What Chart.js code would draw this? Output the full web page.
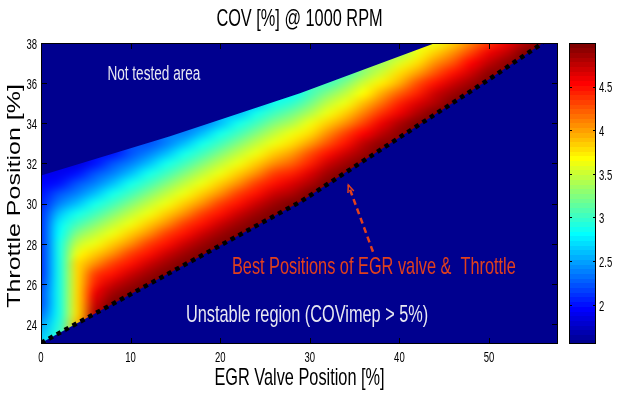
<!DOCTYPE html>
<html>
<head>
<meta charset="utf-8">
<title>COV @ 1000 RPM</title>
<script src="https://cdn.jsdelivr.net/npm/chart.js@4.4.1/dist/chart.umd.min.js"></script>
<style>
  html, body { margin: 0; padding: 0; background: #fff; }
  #wrap { width: 618px; height: 393px; }
</style>
</head>
<body>
<div id="wrap"><canvas id="covChart" width="618" height="393"></canvas></div>
<script>
// EGR valve columns of the COV map [%]
const egrValve = [0, 2, 4, 6, 8, 10, 12, 14, 16, 18, 20, 22, 24, 26, 28,
                  30, 32, 34, 36, 38, 40, 42, 44, 46, 48, 50, 52, 54, 56];
// lowest tested throttle position in each column [%]
const throttleStart = [23, 23.5, 24, 24.5, 25, 25.5, 26, 26.5, 27, 27.5, 28, 28.5, 29, 29.5, 30,
                       30.5, 31, 31.5, 32, 32.5, 33.5, 34, 34.5, 35, 35.5, 36, 37, 37.5, 38];
const throttleStep = 0.5;
// COV [%] going up each column, one value every 0.5 % throttle
const covColumns = [
  [2.7, 2.6, 2.5, 2.35, 2.25, 2.2, 2.15, 2.1, 2.1, 2.1, 2.1, 2.1, 2.1, 2.1, 2.05, 2.0, 1.95, 1.9],
  [3.0, 2.9, 2.85, 2.85, 2.85, 2.85, 2.85, 2.85, 2.85, 2.85, 2.8, 2.75, 2.6, 2.4, 2.2, 2.0, 1.9],
  [3.9, 3.8, 3.8, 3.8, 3.8, 3.8, 3.8, 3.65, 3.45, 3.25, 3.05, 2.85, 2.6, 2.4, 2.2, 2.0, 1.85],
  [4.8, 4.7, 4.6, 4.45, 4.3, 4.05, 3.85, 3.65, 3.45, 3.25, 3.05, 2.85, 2.6, 2.4, 2.2, 2.0],
  [5.0, 4.85, 4.7, 4.5, 4.3, 4.05, 3.85, 3.65, 3.45, 3.25, 3.05, 2.85, 2.6, 2.4, 2.2, 2.0],
  [5.0, 4.85, 4.7, 4.5, 4.3, 4.05, 3.85, 3.65, 3.45, 3.25, 3.05, 2.85, 2.6, 2.4, 2.2],
  [5.0, 4.85, 4.7, 4.5, 4.3, 4.05, 3.85, 3.65, 3.45, 3.25, 3.05, 2.85, 2.6, 2.4, 2.2],
  [5.0, 4.85, 4.7, 4.5, 4.3, 4.05, 3.85, 3.65, 3.45, 3.25, 3.05, 2.85, 2.6, 2.4],
  [5.0, 4.85, 4.7, 4.5, 4.3, 4.05, 3.85, 3.65, 3.45, 3.25, 3.05, 2.85, 2.6, 2.4],
  [5.0, 4.85, 4.7, 4.5, 4.3, 4.05, 3.85, 3.65, 3.45, 3.25, 3.05, 2.85, 2.6, 2.4],
  [5.0, 4.85, 4.7, 4.5, 4.3, 4.05, 3.85, 3.65, 3.45, 3.25, 3.05, 2.85, 2.6],
  [5.0, 4.85, 4.7, 4.5, 4.3, 4.05, 3.85, 3.65, 3.45, 3.25, 3.05, 2.85, 2.6],
  [5.0, 4.85, 4.7, 4.5, 4.3, 4.05, 3.85, 3.65, 3.45, 3.25, 3.05, 2.85, 2.6],
  [5.0, 4.85, 4.7, 4.5, 4.3, 4.05, 3.85, 3.65, 3.45, 3.25, 3.05, 2.85],
  [4.95, 4.8, 4.64, 4.44, 4.24, 4.0, 3.8, 3.6, 3.4, 3.2, 3.0, 2.8],
  [4.97, 4.82, 4.66, 4.46, 4.25, 4.01, 3.81, 3.61, 3.41, 3.21, 3.01],
  [5.0, 4.84, 4.69, 4.49, 4.29, 4.04, 3.84, 3.64, 3.44, 3.24, 3.04],
  [5.0, 4.85, 4.7, 4.5, 4.3, 4.05, 3.85, 3.65, 3.45, 3.25, 3.05],
  [5.0, 4.89, 4.74, 4.55, 4.35, 4.12, 3.9, 3.7, 3.5, 3.3],
  [5.0, 4.91, 4.76, 4.58, 4.38, 4.15, 3.93, 3.74, 3.54, 3.33],
  [4.94, 4.79, 4.62, 4.42, 4.21, 3.97, 3.77, 3.57, 3.37],
  [4.96, 4.81, 4.65, 4.45, 4.25, 4.0, 3.8, 3.6],
  [4.98, 4.83, 4.68, 4.48, 4.28, 4.03, 3.83, 3.63],
  [4.99, 4.84, 4.69, 4.49, 4.29, 4.04, 3.84],
  [5.0, 4.88, 4.73, 4.54, 4.34, 4.1],
  [5.0, 4.9, 4.76, 4.58, 4.37],
  [4.93, 4.78, 4.61],
  [4.95, 4.8],
  [4.98]
];

// best EGR / throttle positions (black dotted line)
const bestEgr = [0, 5, 10, 15, 20, 25, 29, 35, 40, 45, 50, 56];
const bestThrottle = [23.05, 24.27, 25.48, 26.7, 27.91, 29.13, 30.1, 31.84, 33.29, 34.74, 36.19, 38];

// upper limit of the tested area
const limitEgr = [0, 14.4, 28.9, 44, 58];
const limitThrottle = [31.4, 33.35, 35.5, 38, 38];

const xTicks = [0, 10, 20, 30, 40, 50];
const yTicks = [24, 26, 28, 30, 32, 34, 36, 38];
const cbarTicks = [2, 2.5, 3, 3.5, 4, 4.5];
const cMin = 1.55, cMax = 5.0;

const bgBlue = 'rgb(0,0,143)';
const fontFam = '"Liberation Sans", Arial, Helvetica, sans-serif';

// matlab jet, 64 levels
function jetIndex(v) {
  const f = (v - cMin) / (cMax - cMin);
  return Math.max(0, Math.min(63, Math.floor(f * 64)));
}
function jetRgb(i) {
  const t = (i + 1) / 64;
  const cl = v => Math.round(255 * Math.max(0, Math.min(1, v)));
  return [cl(1.5 - Math.abs(4 * t - 3)), cl(1.5 - Math.abs(4 * t - 2)), cl(1.5 - Math.abs(4 * t - 1))];
}

function buildCovImage() {
  const cols = egrValve.length + 1;               // one spare column past the last one
  const rows = Math.round((38 - 23) / throttleStep) + 1;
  const off = document.createElement('canvas');
  off.width = cols;
  off.height = rows;
  const octx = off.getContext('2d');
  const img = octx.createImageData(cols, rows);
  for (let c = 0; c < cols; c++) {
    const ci = Math.min(c, egrValve.length - 1);
    const vals = covColumns[ci];
    for (let r = 0; r < rows; r++) {
      const thr = 38 - r * throttleStep;
      let k = Math.round((thr - throttleStart[ci]) / throttleStep);
      k = Math.max(0, Math.min(vals.length - 1, k)); // outside cells are clipped away below
      const rgb = jetRgb(jetIndex(vals[k]));
      const p = (r * cols + c) * 4;
      img.data[p] = rgb[0];
      img.data[p + 1] = rgb[1];
      img.data[p + 2] = rgb[2];
      img.data[p + 3] = 255;
    }
  }
  octx.putImageData(img, 0, 0);
  return off;
}
const covImage = buildCovImage();

function squeezed(ctx, text, x, y, size, color, align) {
  ctx.save();
  ctx.translate(x, y);
  ctx.scale(0.68, 1);
  ctx.font = size + 'px ' + fontFam;
  ctx.fillStyle = color;
  ctx.textAlign = align || 'center';
  ctx.textBaseline = 'middle';
  ctx.fillText(text, 0, 0);
  ctx.restore();
}

const covMap = {
  id: 'covMap',
  beforeDatasetsDraw(chart) {
    const { ctx, chartArea: a, scales: { x, y } } = chart;
    ctx.save();
    ctx.fillStyle = bgBlue;
    ctx.fillRect(a.left, a.top, a.right - a.left, a.bottom - a.top);
    ctx.beginPath();
    ctx.rect(a.left, a.top, a.right - a.left, a.bottom - a.top);
    ctx.clip();
    ctx.beginPath();
    limitEgr.forEach((e, i) => {
      const px = x.getPixelForValue(e), py = y.getPixelForValue(limitThrottle[i]);
      if (i === 0) ctx.moveTo(px, py); else ctx.lineTo(px, py);
    });
    for (let i = bestEgr.length - 1; i >= 0; i--) {
      ctx.lineTo(x.getPixelForValue(bestEgr[i]), y.getPixelForValue(bestThrottle[i]));
    }
    ctx.closePath();
    ctx.clip();
    ctx.imageSmoothingEnabled = true;
    ctx.imageSmoothingQuality = 'high';
    const left = x.getPixelForValue(egrValve[0] - 1);
    const right = x.getPixelForValue(egrValve[egrValve.length - 1] + 3);
    const top = y.getPixelForValue(38 + throttleStep / 2);
    const bottom = y.getPixelForValue(23 - throttleStep / 2);
    ctx.drawImage(covImage, left, top, right - left, bottom - top);
    ctx.restore();
  },
  afterDatasetsDraw(chart) {
    const { ctx, chartArea: a, scales: { x, y, cbar } } = chart;
    ctx.save();

    // annotations
    squeezed(ctx, 'Not tested area', x.getPixelForValue(12.6), y.getPixelForValue(36.45), 20, '#e8e8f2');
    squeezed(ctx, 'Best Positions of EGR valve &  Throttle', x.getPixelForValue(37.15), y.getPixelForValue(26.8), 24, '#e2401c');
    squeezed(ctx, 'Unstable region (COVimep > 5%)', x.getPixelForValue(29.7), y.getPixelForValue(24.45), 24, '#e8e8f2');

    // dashed arrow
    const tx = x.getPixelForValue(37.05), ty = y.getPixelForValue(27.6);
    const hx = x.getPixelForValue(34.3), hy = y.getPixelForValue(30.92);
    ctx.strokeStyle = '#e2401c';
    ctx.lineWidth = 2.5;
    ctx.setLineDash([6, 4]);
    ctx.beginPath();
    ctx.moveTo(tx, ty);
    ctx.lineTo(hx, hy);
    ctx.stroke();
    ctx.setLineDash([]);
    const ang = Math.atan2(hy - ty, hx - tx);
    ctx.lineWidth = 1.5;
    ctx.beginPath();
    ctx.moveTo(hx - 8 * Math.cos(ang - 0.4), hy - 8 * Math.sin(ang - 0.4));
    ctx.lineTo(hx, hy);
    ctx.lineTo(hx - 8 * Math.cos(ang + 0.4), hy - 8 * Math.sin(ang + 0.4));
    ctx.stroke();

    // box and inward ticks
    ctx.strokeStyle = '#000';
    ctx.lineWidth = 1;
    ctx.strokeRect(a.left + 0.5, a.top + 0.5, a.right - a.left - 1, a.bottom - a.top - 1);
    ctx.beginPath();
    xTicks.forEach(t => {
      const px = Math.round(x.getPixelForValue(t)) + 0.5;
      ctx.moveTo(px, a.bottom); ctx.lineTo(px, a.bottom - 6);
      ctx.moveTo(px, a.top); ctx.lineTo(px, a.top + 6);
    });
    yTicks.forEach(t => {
      const py = Math.round(y.getPixelForValue(t)) + 0.5;
      ctx.moveTo(a.left, py); ctx.lineTo(a.left + 6, py);
      ctx.moveTo(a.right, py); ctx.lineTo(a.right - 6, py);
    });
    ctx.stroke();

    // tick labels
    xTicks.forEach(t => squeezed(ctx, String(t), x.getPixelForValue(t), 358, 14, '#000'));
    yTicks.forEach(t => squeezed(ctx, String(t), 37, y.getPixelForValue(t) + 2, 14, '#000', 'right'));

    // colorbar
    const cbL = 569, cbR = 596;
    for (let i = 0; i < 64; i++) {
      const v0 = cMin + (cMax - cMin) * i / 64, v1 = cMin + (cMax - cMin) * (i + 1) / 64;
      const y0 = cbar.getPixelForValue(v0), y1 = cbar.getPixelForValue(v1);
      const rgb = jetRgb(i);
      ctx.fillStyle = 'rgb(' + rgb.join(',') + ')';
      ctx.fillRect(cbL, Math.floor(y1), cbR - cbL, Math.ceil(y0) - Math.floor(y1));
    }
    ctx.strokeRect(cbL + 0.5, a.top + 0.5, cbR - cbL - 1, a.bottom - a.top - 1);
    ctx.beginPath();
    cbarTicks.forEach(t => {
      const py = Math.round(cbar.getPixelForValue(t)) + 0.5;
      ctx.moveTo(cbL, py); ctx.lineTo(cbL + 3, py);
      ctx.moveTo(cbR, py); ctx.lineTo(cbR - 3, py);
    });
    ctx.stroke();
    cbarTicks.forEach(t => squeezed(ctx, String(t), 599, cbar.getPixelForValue(t) + 2, 14, '#000', 'left'));

    // titles
    squeezed(ctx, 'COV [%] @ 1000 RPM', (a.left + a.right) / 2, 19, 24, '#000');
    squeezed(ctx, 'EGR Valve Position [%]', (a.left + a.right) / 2, 378, 24, '#000');
    ctx.save();
    ctx.translate(15, 196);
    ctx.rotate(-Math.PI / 2);
    ctx.scale(1, 0.75);
    ctx.font = '25px ' + fontFam;
    ctx.fillStyle = '#000';
    ctx.textAlign = 'center';
    ctx.textBaseline = 'middle';
    ctx.fillText('Throttle Position [%]', 0, 0);
    ctx.restore();

    ctx.restore();
  }
};

const ctx = document.getElementById('covChart').getContext('2d');
const covChart = new Chart(ctx, {
  type: 'scatter',
  data: {
    datasets: [{
      type: 'line',
      label: 'Best positions',
      data: bestEgr.map((e, i) => ({ x: e, y: bestThrottle[i] })),
      borderColor: '#000',
      borderWidth: 4.5,
      borderDash: [4.5, 4.5],
      borderCapStyle: 'butt',
      pointRadius: 0,
      fill: false,
      tension: 0
    }]
  },
  options: {
    responsive: false,
    animation: false,
    devicePixelRatio: 1,
    layout: { padding: { top: 43, left: 0, right: 0, bottom: 0 } },
    plugins: { legend: { display: false }, tooltip: { enabled: false }, title: { display: false } },
    scales: {
      x: {
        type: 'linear', min: 0, max: 57.7,
        ticks: { display: false }, grid: { display: false }, border: { display: false },
        afterFit: s => { s.height = 49; }
      },
      y: {
        type: 'linear', min: 23, max: 38,
        ticks: { display: false }, grid: { display: false }, border: { display: false },
        afterFit: s => { s.width = 41; }
      },
      cbar: {
        type: 'linear', position: 'right', min: cMin, max: cMax,
        ticks: { display: false }, grid: { display: false }, border: { display: false },
        afterFit: s => { s.width = 60; }
      }
    }
  },
  plugins: [covMap]
});
</script>
</body>
</html>
